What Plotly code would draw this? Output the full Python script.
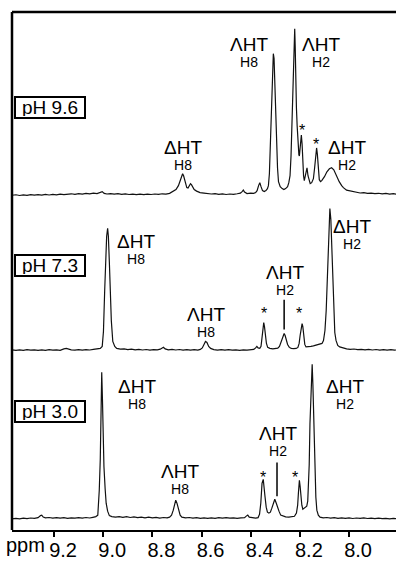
import plotly.graph_objects as go

# ---------------- data (chemical shift in ppm, intensity in arbitrary units) ----------------
PH_LABELS = ["pH 9.6", "pH 7.3", "pH 3.0"]
TICK_VALS = [9.2, 9.0, 8.8, 8.6, 8.4, 8.2, 8.0]
TICK_TEXT = ["9.2", "9.0", "8.8", "8.6", "8.4", "8.2", "8.0"]

ppm_ph96 = [9.371, 9.355, 9.340, 9.325, 9.310, 9.295, 9.280, 9.265, 9.250, 9.235, 9.220, 9.205, 9.190,
            9.175, 9.160, 9.145, 9.130, 9.115, 9.100, 9.085, 9.070, 9.055, 9.040, 9.025, 9.012, 9.004,
            8.996, 8.985, 8.970, 8.955, 8.940, 8.925, 8.910, 8.895, 8.880, 8.865, 8.850, 8.835, 8.820,
            8.805, 8.790, 8.775, 8.760, 8.745, 8.730, 8.715, 8.704, 8.694, 8.686, 8.680, 8.677, 8.673,
            8.667, 8.660, 8.655, 8.650, 8.645, 8.641, 8.636, 8.630, 8.620, 8.606, 8.590, 8.575, 8.560,
            8.545, 8.530, 8.515, 8.500, 8.485, 8.470, 8.455, 8.442, 8.435, 8.430, 8.425, 8.415, 8.400,
            8.388, 8.380, 8.374, 8.368, 8.363, 8.358, 8.352, 8.345, 8.338, 8.332, 8.328, 8.324, 8.321,
            8.317, 8.314, 8.311, 8.308, 8.305, 8.302, 8.299, 8.295, 8.291, 8.287, 8.280, 8.272, 8.265,
            8.258, 8.250, 8.245, 8.240, 8.236, 8.232, 8.229, 8.226, 8.223, 8.221, 8.219, 8.217, 8.214,
            8.211, 8.207, 8.204, 8.202, 8.199, 8.196, 8.194, 8.191, 8.188, 8.185, 8.182, 8.178, 8.174,
            8.171, 8.167, 8.162, 8.158, 8.152, 8.145, 8.140, 8.136, 8.132, 8.129, 8.125, 8.121, 8.116,
            8.111, 8.100, 8.090, 8.080, 8.071, 8.062, 8.050, 8.040, 8.030, 8.023, 8.010, 7.995, 7.984,
            7.970, 7.955, 7.940, 7.925, 7.910, 7.895, 7.880, 7.865, 7.850, 7.835, 7.820, 7.809]
int_ph96 = [0.3, 0.8, 0.1, 0.7, 0.2, 0.9, 0.4, 1.0, 0.5, 1.1, 0.6, 1.2, 0.8,
            1.4, 0.9, 1.6, 1.8, 1.3, 1.9, 1.5, 2.2, 1.7, 2.4, 2.0, 3.2, 4.0,
            2.2, 1.6, 2.0, 1.4, 1.9, 1.2, 1.7, 1.1, 1.5, 0.9, 1.4, 1.0, 1.5,
            1.1, 1.6, 1.2, 1.8, 1.5, 2.2, 4.0, 6, 10, 16, 21, 22, 20,
            13, 8, 7.5, 10, 12, 11, 8, 6, 4.5, 3, 2.5, 2.0, 1.6,
            2.0, 1.3, 1.7, 1.1, 1.6, 1.2, 1.8, 2.5, 4.0, 5.5, 3.5, 2.0, 2.4,
            2.2, 3.0, 5, 10, 13, 9, 5, 4, 5, 7, 10, 22, 47,
            85, 113, 135, 143, 138, 115, 85, 50, 28, 14, 9, 7, 6,
            7, 9, 13, 20, 40, 75, 97, 120, 139, 168, 150, 115, 88,
            70, 47, 41, 40, 48, 58, 61, 52, 30, 20, 15, 20, 27,
            28, 20, 14, 12, 13, 17, 28, 40, 48, 42, 28, 16, 14,
            15, 19, 24, 27, 28, 26, 19, 14, 10, 8, 5.5, 4.5, 4,
            3.2, 2.6, 2.9, 2.2, 2.5, 1.9, 2.3, 1.7, 2.1, 1.5, 1.9, 1.4]

ppm_ph73 = [9.371, 9.355, 9.340, 9.325, 9.310, 9.295, 9.280, 9.265, 9.250, 9.235, 9.220, 9.205, 9.190,
            9.175, 9.160, 9.150, 9.130, 9.115, 9.100, 9.085, 9.070, 9.055, 9.040, 9.025, 9.012, 9.004,
            8.999, 8.994, 8.990, 8.986, 8.982, 8.979, 8.975, 8.971, 8.967, 8.961, 8.953, 8.945, 8.930,
            8.915, 8.900, 8.885, 8.870, 8.855, 8.840, 8.825, 8.810, 8.795, 8.780, 8.768, 8.760, 8.755,
            8.748, 8.735, 8.720, 8.705, 8.690, 8.675, 8.660, 8.645, 8.630, 8.615, 8.605, 8.597, 8.590,
            8.584, 8.578, 8.571, 8.563, 8.550, 8.535, 8.520, 8.505, 8.490, 8.475, 8.460, 8.445, 8.430,
            8.415, 8.400, 8.388, 8.380, 8.375, 8.370, 8.363, 8.358, 8.354, 8.350, 8.347, 8.344, 8.340,
            8.336, 8.331, 8.322, 8.310, 8.300, 8.290, 8.283, 8.277, 8.272, 8.268, 8.264, 8.260, 8.255,
            8.250, 8.243, 8.235, 8.225, 8.215, 8.208, 8.203, 8.199, 8.195, 8.191, 8.188, 8.184, 8.180,
            8.175, 8.165, 8.155, 8.145, 8.135, 8.125, 8.118, 8.110, 8.104, 8.098, 8.093, 8.089, 8.085,
            8.081, 8.078, 8.074, 8.070, 8.066, 8.062, 8.058, 8.053, 8.046, 8.038, 8.025, 8.010, 7.995,
            7.980, 7.965, 7.950, 7.935, 7.920, 7.905, 7.890, 7.875, 7.860, 7.845, 7.830, 7.815, 7.809]
int_ph73 = [0.5, 0.0, 0.6, 0.1, 0.7, 0.2, 0.6, 0.0, 0.5, 0.1, 0.7, 0.2, 0.6,
            0.1, 1.5, 2.0, 0.6, 0.2, 0.7, 0.3, 0.8, 0.4, 1.0, 1.3, 2.0, 4,
            19, 60, 95, 115, 123, 115, 89, 55, 30, 9, 4, 2, 1.2,
            1.6, 0.8, 1.3, 0.6, 1.1, 0.4, 0.9, 0.3, 0.8, 0.5, 1.2, 2.5, 3.2,
            1.5, 0.6, 1.0, 0.4, 0.9, 0.3, 0.8, 0.2, 0.7, 0.3, 1.0, 2.5, 6,
            9, 8, 4, 2, 0.8, 0.3, 0.8, 0.2, 0.7, 0.2, 0.6, 0.1, 0.6,
            0.2, 0.8, 1.0, 2.5, 4, 2.5, 2.0, 4, 12, 22, 28, 24, 14,
            7, 3, 2, 1.5, 1.8, 2.2, 4, 8, 13, 16, 17, 15, 10,
            6, 3, 2, 1.8, 2.0, 3, 7, 15, 24, 27, 24, 14, 6,
            3.5, 3.5, 4, 4.5, 5, 5.5, 6, 7, 10, 20, 40, 65, 90,
            125, 143, 132, 100, 60, 35, 18, 10, 5, 3.5, 2.5, 1.5, 1.0,
            1.4, 0.7, 1.1, 0.5, 1.0, 0.4, 0.9, 0.3, 0.8, 0.2, 0.7, 0.2, 0.4]

ppm_ph30 = [9.371, 9.355, 9.340, 9.325, 9.310, 9.295, 9.280, 9.265, 9.255, 9.250, 9.244, 9.235, 9.220,
            9.205, 9.190, 9.175, 9.160, 9.145, 9.130, 9.115, 9.100, 9.085, 9.070, 9.055, 9.042, 9.030,
            9.022, 9.016, 9.012, 9.009, 9.006, 9.003, 9.000, 8.997, 8.992, 8.988, 8.982, 8.975, 8.965,
            8.950, 8.935, 8.920, 8.905, 8.890, 8.875, 8.860, 8.845, 8.830, 8.815, 8.800, 8.785, 8.770,
            8.755, 8.740, 8.730, 8.722, 8.715, 8.710, 8.705, 8.700, 8.694, 8.687, 8.680, 8.665, 8.650,
            8.635, 8.620, 8.605, 8.590, 8.575, 8.560, 8.545, 8.530, 8.515, 8.500, 8.485, 8.470, 8.455,
            8.440, 8.425, 8.418, 8.412, 8.406, 8.395, 8.380, 8.370, 8.364, 8.359, 8.354, 8.349, 8.345,
            8.342, 8.337, 8.332, 8.326, 8.320, 8.314, 8.308, 8.302, 8.296, 8.290, 8.285, 8.278, 8.270,
            8.258, 8.245, 8.232, 8.222, 8.214, 8.209, 8.206, 8.202, 8.199, 8.196, 8.192, 8.188, 8.183,
            8.177, 8.172, 8.168, 8.165, 8.162, 8.159, 8.156, 8.153, 8.150, 8.147, 8.145, 8.142, 8.139,
            8.135, 8.131, 8.125, 8.118, 8.105, 8.090, 8.075, 8.060, 8.045, 8.030, 8.015, 8.000, 7.985,
            7.970, 7.955, 7.940, 7.925, 7.910, 7.895, 7.880, 7.865, 7.850, 7.835, 7.820, 7.809]
int_ph30 = [0.2, 0.8, 0.3, 1.0, 0.5, 1.1, 0.7, 1.5, 3.5, 4.0, 2.0, 1.2, 1.6,
            1.0, 1.5, 0.9, 1.4, 0.8, 1.3, 0.9, 1.5, 1.0, 1.6, 1.1, 1.8, 2.5,
            4, 29, 60, 100, 148, 120, 80, 53, 30, 16, 8, 3.5, 2.5,
            2.0, 2.5, 1.8, 2.4, 1.6, 2.2, 1.5, 2.0, 1.3, 1.9, 1.2, 1.7, 1.0,
            1.6, 1.3, 2.0, 4, 9, 15, 19, 16, 9, 4, 2, 1.2, 1.6,
            0.9, 1.4, 0.8, 1.3, 0.7, 1.2, 0.8, 1.4, 1.0, 1.5, 0.9, 1.3, 0.8,
            1.2, 1.5, 3, 4, 2, 1.3, 1.0, 1.5, 5, 16, 36, 40, 33,
            23, 12, 7, 6, 7, 11, 17, 20, 16, 11, 8, 4, 3,
            2.2, 2.0, 2.2, 2.8, 6, 14, 26, 39, 33, 23, 14, 10, 11,
            12, 13, 18, 32, 55, 96, 125, 143, 156, 135, 113, 80, 46,
            22, 9, 4, 2, 1.2, 1.6, 0.9, 1.4, 0.8, 1.3, 0.7, 1.2, 0.6,
            1.1, 0.7, 1.2, 0.6, 1.0, 0.5, 0.9, 0.4, 0.8, 0.3, 0.7, 0.4]

SPECTRA = [(ppm_ph96, int_ph96), (ppm_ph73, int_ph73), (ppm_ph30, int_ph30)]

# ---------------- layout helpers ----------------
FONT = "Liberation Sans, Arial, Helvetica, sans-serif"
INK = "#000000"
YAXES = ["y", "y2", "y3"]

fig = go.Figure()
for (px, iy), ya in zip(SPECTRA, YAXES):
    fig.add_trace(go.Scatter(x=px, y=iy, mode="lines", xaxis="x", yaxis=ya,
                             line=dict(color="#111111", width=1.2), hoverinfo="skip",
                             showlegend=False))

# peak labels: (panel, main text, subscript, x centre, y centre of the two-line block)
PEAK_LABELS = [
    (0, "ΛHT", "H8", 8.405, 145),
    (0, "ΛHT", "H2", 8.114, 145),
    (0, "ΔHT", "H8", 8.677, 41),
    (0, "ΔHT", "H2", 8.008, 41),
    (1, "ΔHT", "H8", 8.868, 102),
    (1, "ΔHT", "H2", 7.988, 117),
    (1, "ΛHT", "H2", 8.260, 71),
    (1, "ΛHT", "H8", 8.582, 29),
    (2, "ΔHT", "H8", 8.862, 126),
    (2, "ΔHT", "H2", 8.018, 126),
    (2, "ΛHT", "H2", 8.287, 79),
    (2, "ΛHT", "H8", 8.689, 40),
]
STARS = [(0, 8.191, 66), (0, 8.134, 51), (1, 8.346, 37), (1, 8.203, 37),
         (2, 8.350, 42), (2, 8.220, 42)]
MARKERS = [(1, 8.264, 21, 51), (2, 8.293, 23, 57)]

ann = []
for p, t, s, xm, ym in PEAK_LABELS:
    txt = ("<span style='font-size:19px'>%s</span><br>"
           "<span style='font-size:14px'>%s</span>" % (t, s))
    ann.append(dict(x=xm, y=ym, xref="x", yref=YAXES[p], text=txt, showarrow=False,
                    align="center", font=dict(family=FONT, size=12, color=INK)))
for p, xm, ym in STARS:
    ann.append(dict(x=xm, y=ym, xref="x", yref=YAXES[p], text="*", showarrow=False,
                    font=dict(family=FONT, size=16, color=INK)))

BOX_Y = [0.8151, 0.5115, 0.228]
for lab, by in zip(PH_LABELS, BOX_Y):
    ann.append(dict(x=0.0977, y=by, xref="paper", yref="paper", text=lab, showarrow=False,
                    xanchor="center", yanchor="middle", width=66, height=17,
                    bordercolor=INK, borderwidth=2, borderpad=1,
                    font=dict(family=FONT, size=19, color=INK)))
ann.append(dict(x=0.034, y=-0.029, xref="paper", yref="paper", text="ppm", showarrow=False,
                xanchor="center", yanchor="middle", font=dict(family=FONT, size=20, color=INK)))

shapes = [
    dict(type="line", xref="paper", yref="paper", x0=0, x1=0, y0=0, y1=1,
         line=dict(color=INK, width=2.5)),
    dict(type="line", xref="paper", yref="paper", x0=0, x1=1, y0=1, y1=1,
         line=dict(color=INK, width=2.5)),
]
for p, xm, y0, y1 in MARKERS:
    shapes.append(dict(type="line", xref="x", yref=YAXES[p], x0=xm, x1=xm, y0=y0, y1=y1,
                       line=dict(color=INK, width=1.5)))

yhidden = dict(visible=False, showgrid=False, zeroline=False, fixedrange=True)
fig.update_layout(
    width=396, height=561,
    margin=dict(l=12, r=0, t=12, b=27, pad=0),
    paper_bgcolor="white", plot_bgcolor="white",
    showlegend=False,
    xaxis=dict(range=[9.371, 7.809], tickvals=TICK_VALS, ticktext=TICK_TEXT,
               ticks="outside", ticklen=5, tickwidth=1.5, tickcolor=INK,
               showline=True, linewidth=2, linecolor=INK, showgrid=False, zeroline=False,
               anchor="y3", ticklabelshift=-9, ticklabelstandoff=-4,
               tickfont=dict(family=FONT, size=20, color=INK)),
    yaxis=dict(domain=[0.6303, 1.0], range=[-8, 185], **yhidden),
    yaxis2=dict(domain=[0.3295, 0.6303], range=[-9, 148], **yhidden),
    yaxis3=dict(domain=[0.0, 0.3295], range=[-11, 161], **yhidden),
    annotations=ann,
    shapes=shapes,
)

fig.write_html("out.html")
